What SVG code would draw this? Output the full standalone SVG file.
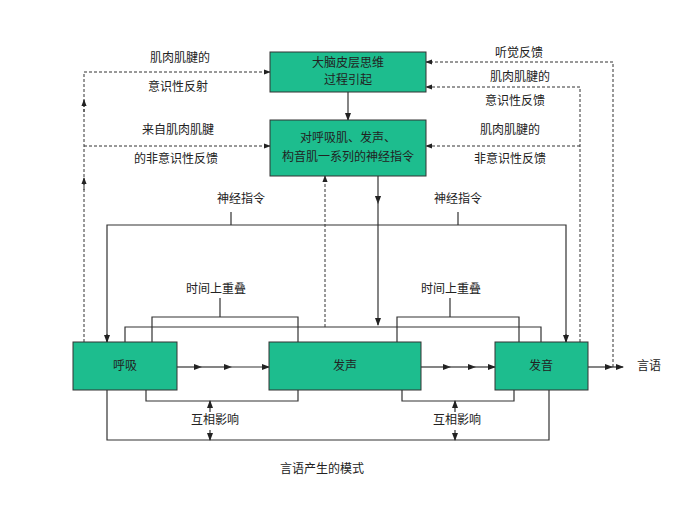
<svg xmlns="http://www.w3.org/2000/svg" width="700" height="525" viewBox="0 0 700 525">
<style>
text{font-family:"Noto Sans CJK SC","Liberation Sans",sans-serif;font-size:12px;fill:#222;text-anchor:middle;dominant-baseline:middle}
.box{fill:#1dbd8e;stroke:#333;stroke-width:1}
.s{stroke:#333;stroke-width:1.2;fill:none}
.d{stroke:#333;stroke-width:1;fill:none;stroke-dasharray:3,2}
</style>
<defs>
<marker id="a" viewBox="0 0 8 8" refX="7" refY="4" markerWidth="7" markerHeight="7" orient="auto"><path d="M0,1 L8,4 L0,7Z" fill="#222"/></marker>
<marker id="m" viewBox="0 0 8 8" refX="4" refY="4" markerWidth="7" markerHeight="7" orient="auto"><path d="M0,1 L8,4 L0,7Z" fill="#222"/></marker>
</defs>
<rect width="700" height="525" fill="#fff"/>
<g id="connectors">
<path class="s" d="M348,92 V120" marker-end="url(#a)"/>
<path class="d" d="M84,342 V72 H270" marker-end="url(#a)"/>
<path class="d" d="M84,146 H270" marker-end="url(#a)"/>
<path class="d" d="M84,190 V178" marker-end="url(#a)"/>
<path class="d" d="M84,112 V100" marker-end="url(#a)"/>
<path class="d" d="M613,367 V62 H426" marker-end="url(#a)"/>
<path class="d" d="M580,342 V87 H426" marker-end="url(#a)"/>
<path class="d" d="M580,146 H426" marker-end="url(#a)"/>
<path class="d" d="M325,327 V176" marker-end="url(#a)"/>
<path class="s" d="M378,176 V200" marker-end="url(#m)"/>
<path class="s" d="M378,200 V325" marker-end="url(#a)"/>
<path class="s" d="M107,342 V225 H566 V342" />
<path class="s" d="M107,334 V342" marker-end="url(#a)"/>
<path class="s" d="M566,334 V342" marker-end="url(#a)"/>
<path class="s" d="M231,212 V225 M458,212 V225"/>
<path class="s" d="M152,342 V317 H298 V342 M220,298 V317"/>
<path class="s" d="M397,342 V317 H519 V342 M450,298 V317"/>
<path class="s" d="M125,342 V327 H541 V342"/>
<path class="s" d="M177,367 H198" marker-end="url(#m)"/>
<path class="s" d="M198,367 H228" marker-end="url(#m)"/>
<path class="s" d="M228,367 H269" marker-end="url(#a)"/>
<path class="s" d="M421,367 H447" marker-end="url(#m)"/>
<path class="s" d="M447,367 H472" marker-end="url(#m)"/>
<path class="s" d="M472,367 H495" marker-end="url(#a)"/>
<path class="s" d="M588,367 H609" marker-end="url(#m)"/>
<path class="s" d="M609,367 H623" marker-end="url(#a)"/>
<path class="s" d="M146,390 V401 H298 V390 M402,390 V401 H514 V390"/>
<path class="s" d="M107,390 V440 H549 V390"/>
<path class="s" d="M210,412 V401" marker-end="url(#a)"/>
<path class="s" d="M210,430 V440" marker-end="url(#a)"/>
<path class="s" d="M455,412 V401" marker-end="url(#a)"/>
<path class="s" d="M455,430 V440" marker-end="url(#a)"/>
</g>
<g id="n1"><rect class="box" x="270" y="52" width="156" height="40"/><text x="348" y="64">大脑皮层思维</text><text x="348" y="81">过程引起</text></g>
<g id="n2"><rect class="box" x="270" y="120" width="156" height="56"/><text x="348" y="139">对呼吸肌、发声、</text><text x="348" y="158">构音肌一系列的神经指令</text></g>
<g id="n3"><rect class="box" x="73" y="342" width="104" height="48"/><text x="125" y="367">呼吸</text></g>
<g id="n4"><rect class="box" x="269" y="342" width="152" height="48"/><text x="345" y="367">发声</text></g>
<g id="n5"><rect class="box" x="495" y="342" width="93" height="48"/><text x="541" y="367">发音</text></g>
<g id="labels">
<text x="180" y="59">肌肉肌腱的</text>
<text x="178" y="88">意识性反射</text>
<text x="178" y="131">来自肌肉肌腱</text>
<text x="176" y="160">的非意识性反馈</text>
<text x="519" y="54">听觉反馈</text>
<text x="520" y="78">肌肉肌腱的</text>
<text x="515" y="102">意识性反馈</text>
<text x="510" y="131">肌肉肌腱的</text>
<text x="510" y="160">非意识性反馈</text>
<text x="241" y="200">神经指令</text>
<text x="458" y="200">神经指令</text>
<text x="216" y="290">时间上重叠</text>
<text x="451" y="290">时间上重叠</text>
<text x="215" y="421">互相影响</text>
<text x="457" y="421">互相影响</text>
<text x="649" y="367">言语</text>
<text x="322" y="470">言语产生的模式</text>
</g>
</svg>
